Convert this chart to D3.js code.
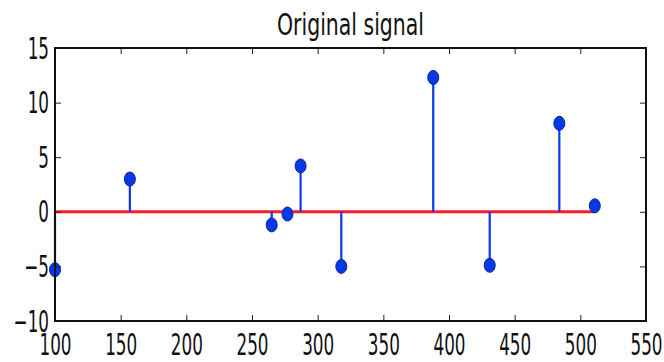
<!DOCTYPE html>
<html>
<head>
<meta charset="utf-8">
<script src="https://d3js.org/d3.v7.min.js"></script>
<style>
  body { margin: 0; background: #fff; }
  svg { display: block; }
  text { font-family: "DejaVu Sans", sans-serif; fill: #111; }
</style>
</head>
<body>
<svg id="chart" width="664" height="362"></svg>
<script>
// data
const title = "Original signal";
const positions = [100, 157, 265, 277, 287, 318, 388, 431, 484, 511];
const values = [-5.3, 3.0, -1.2, -0.2, 4.2, -5.0, 12.3, -4.9, 8.1, 0.55];
const xTicks = [100, 150, 200, 250, 300, 350, 400, 450, 500, 550];
const yTicks = [-10, -5, 0, 5, 10, 15];

const margin = { top: 48, right: 18, bottom: 41, left: 55 };
const width = 664 - margin.left - margin.right;
const height = 362 - margin.top - margin.bottom;
const squeeze = 0.56; // the picture's text is horizontally compressed

const svg = d3.select("#chart");
const g = svg.append("g").attr("transform", `translate(${margin.left},${margin.top})`);

const x = d3.scaleLinear().domain([100, 550]).range([0, width]);
const y = d3.scaleLinear().domain([-10, 15]).range([height, 0]);

// title
svg.append("text")
  .attr("transform", `translate(${margin.left + width / 2},35) scale(0.66,1)`)
  .attr("text-anchor", "middle")
  .attr("font-size", 31)
  .text(title);

// red baseline
g.append("line")
  .attr("x1", x(d3.min(positions))).attr("x2", x(d3.max(positions)))
  .attr("y1", y(0)).attr("y2", y(0))
  .attr("stroke", "#fa1e2a").attr("stroke-width", 3);

// stems
const pts = positions.map((p, i) => ({ p: p, v: values[i] }));
g.selectAll(".stem").data(pts).enter().append("line")
  .attr("class", "stem")
  .attr("x1", d => x(d.p)).attr("x2", d => x(d.p))
  .attr("y1", y(0)).attr("y2", d => y(d.v))
  .attr("stroke", "#0a3ae8").attr("stroke-width", 2.2);

// markers
g.selectAll(".mark").data(pts).enter().append("ellipse")
  .attr("class", "mark")
  .attr("cx", d => x(d.p)).attr("cy", d => y(d.v))
  .attr("rx", 5.5).attr("ry", 7)
  .attr("fill", "#0638e6").attr("stroke", "#0a26a0").attr("stroke-width", 1);

// axes with inward ticks on all four sides
const tickLen = 6;
const xb = g.append("g").attr("transform", `translate(0,${height})`)
  .call(d3.axisBottom(x).tickValues(xTicks).tickSizeInner(-tickLen).tickSizeOuter(0).tickPadding(0));
xb.selectAll("text")
  .attr("font-size", 30)
  .attr("y", 0).attr("dy", 0)
  .attr("transform", `translate(0,34) scale(${squeeze},1)`);

const yl = g.append("g")
  .call(d3.axisLeft(y).tickValues(yTicks).tickSizeInner(-tickLen).tickSizeOuter(0).tickPadding(0)
    .tickFormat(d => d < 0 ? "\u2212" + Math.abs(d) : d));
yl.selectAll("text")
  .attr("font-size", 30)
  .attr("x", 0).attr("dy", 0)
  .attr("transform", `translate(-6,10) scale(${squeeze},1)`);

g.append("g").attr("transform", `translate(0,0)`)
  .call(d3.axisTop(x).tickValues(xTicks).tickSizeInner(-tickLen).tickSizeOuter(0).tickFormat(""));
g.append("g").attr("transform", `translate(${width},0)`)
  .call(d3.axisRight(y).tickValues(yTicks).tickSizeInner(-tickLen).tickSizeOuter(0).tickFormat(""));

g.selectAll(".domain").remove();
g.selectAll(".tick line").attr("stroke", "#222").attr("stroke-width", 1);

// frame
g.append("rect")
  .attr("width", width).attr("height", height)
  .attr("fill", "none").attr("stroke", "#111").attr("stroke-width", 2);
</script>
</body>
</html>
